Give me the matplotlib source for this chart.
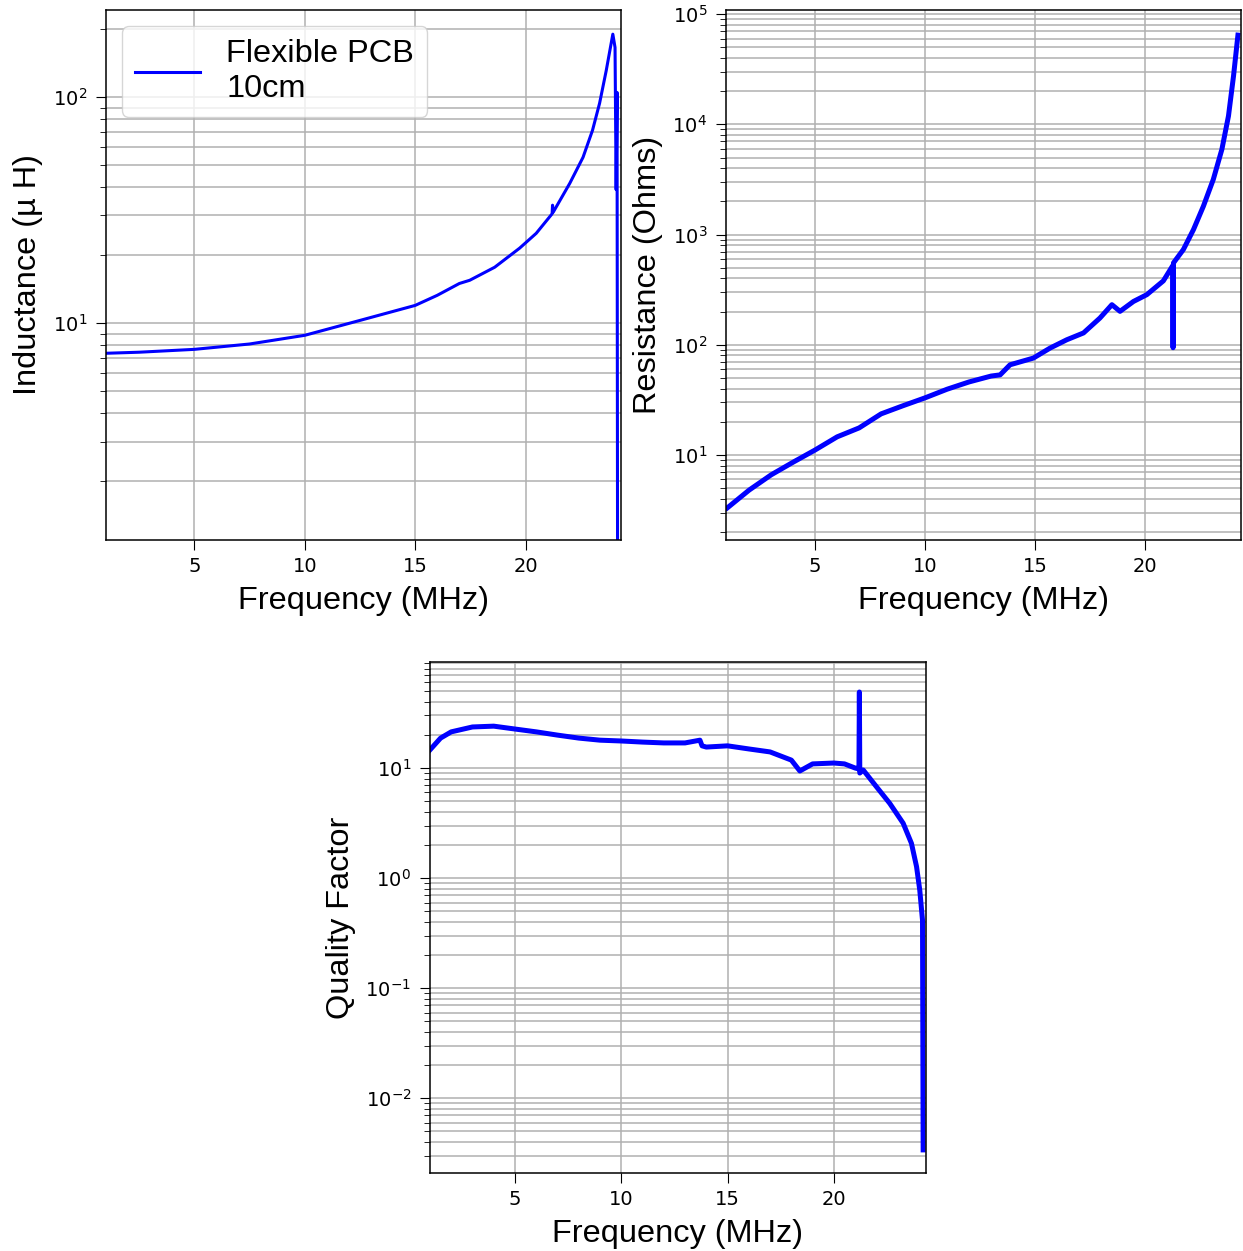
import matplotlib
matplotlib.use('Agg')
import matplotlib.pyplot as plt

# Inductancia (uH) vs frecuencia (MHz)
frec_L = [1.0, 2.5, 5.0, 7.5, 10.0, 12.5, 15.0, 16.0, 17.0, 17.47, 18.6, 19.73, 20.48,
          21.2, 21.22, 21.25, 22.0, 22.6, 23.03, 23.35, 23.65, 23.95, 24.05, 24.1, 24.14, 24.17]
induct = [7.37, 7.45, 7.67, 8.1, 8.85, 10.3, 12.0, 13.3, 15.0, 15.5, 17.7, 21.5, 25.0,
          30.5, 33.3, 31.0, 41.6, 54.2, 71.4, 94.0, 131.0, 190.0, 166.0, 39.0, 105.0, 0.3]

# Resistencia (Ohms)
frec_R = [1.0, 2.0, 3.0, 4.0, 5.0, 6.0, 7.0, 8.0, 9.0, 10.0, 11.0, 12.0, 13.0, 13.41,
          13.86, 14.92, 15.68, 16.44, 17.2, 17.95, 18.49, 18.86, 19.47, 20.08, 20.83,
          21.25, 21.27, 21.29, 21.74, 22.2, 22.65, 23.1, 23.49, 23.79, 24.02, 24.22]
resist = [3.3, 4.8, 6.6, 8.6, 11.1, 14.6, 17.6, 23.6, 28.0, 33.0, 39.5, 46.0, 52.0, 53.3,
          65.8, 75.7, 93.3, 111.0, 128.0, 175.0, 231.0, 201.0, 247.0, 285.0, 380.0,
          520.0, 94.0, 553.0, 731.0, 1110.0, 1808.0, 3162.0, 5925.0, 11900.0, 27500.0, 64500.0]

# Factor de calidad
frec_Q = [1.0, 1.5, 2.0, 3.0, 4.0, 5.0, 6.0, 7.0, 8.0, 9.0, 10.0, 11.0, 12.0, 13.0, 13.7,
          13.8, 14.0, 15.0, 16.0, 17.0, 18.0, 18.4, 19.0, 20.0, 20.5, 21.0, 21.18, 21.2,
          21.22, 21.38, 22.0, 22.63, 23.26, 23.65, 23.89, 24.04, 24.17, 24.2]
calidad = [14.6, 18.7, 21.3, 23.6, 24.0, 22.6, 21.3, 19.9, 18.7, 17.9, 17.6, 17.2, 16.9,
           16.9, 17.9, 15.9, 15.5, 15.9, 14.9, 14.0, 11.8, 9.4, 10.9, 11.1, 10.9, 10.0, 9.8,
           49.0, 9.0, 9.6, 6.77, 4.77, 3.15, 2.07, 1.27, 0.78, 0.415, 0.0034]

plt.rcParams['xtick.labelsize'] = 14
plt.rcParams['ytick.labelsize'] = 14
plt.rcParams['xtick.major.size'] = 7
plt.rcParams['ytick.major.size'] = 7
plt.rcParams['ytick.minor.size'] = 4
plt.rcParams['xtick.major.pad'] = 5.5
plt.rcParams['ytick.major.pad'] = 6.5
plt.rcParams['ytick.minor.pad'] = 6.5
plt.rcParams['axes.labelpad'] = 7
plt.rcParams['axes.linewidth'] = 1.1
plt.rcParams['grid.linewidth'] = 1.1

fuente_label = {'family': 'Liberation Sans', 'size': 23.4}

fig = plt.figure(figsize=(12.43, 12.51), dpi=100)
ax1 = fig.add_axes([0.0853, 0.5683, 0.4143, 0.4237])
ax2 = fig.add_axes([0.5841, 0.5683, 0.4143, 0.4237])
ax3 = fig.add_axes([0.3459, 0.0624, 0.399, 0.4085])

ax1.plot(frec_L, induct, 'b-', lw=2.2, label='Flexible PCB\n10cm')
ax1.set_yscale('log')
ax1.set_xlim(1.0, 24.32)
ax1.set_ylim(1.1, 243)
ax1.set_xlabel('Frequency (MHz)', fontdict=fuente_label)
ax1.set_ylabel('Inductance (µ H)', fontdict=fuente_label)
ax1.grid(True, which='both')
ax1.legend(loc='upper left', prop={'family': 'Liberation Sans', 'size': 23.4})

ax2.plot(frec_R, resist, 'b-', lw=3.6)
ax2.set_yscale('log')
ax2.set_xlim(0.95, 24.36)
ax2.set_ylim(1.69, 1.09e5)
ax2.set_xlabel('Frequency (MHz)', fontdict=fuente_label)
ax2.set_ylabel('Resistance (Ohms)', fontdict=fuente_label)
ax2.grid(True, which='both')

ax3.plot(frec_Q, calidad, 'b-', lw=3.6)
ax3.set_yscale('log')
ax3.set_xlim(1.0, 24.33)
ax3.set_ylim(0.0021, 92)
ax3.set_xlabel('Frequency (MHz)', fontdict=fuente_label)
ax3.set_ylabel('Quality Factor', fontdict=fuente_label)
ax3.grid(True, which='both')

fig.savefig('out.png', dpi=100)
